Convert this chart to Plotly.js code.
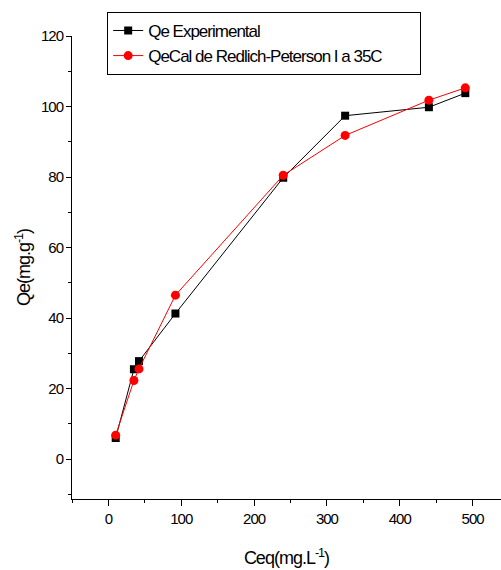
<!DOCTYPE html>
<html>
<head>
<meta charset="utf-8">
<script src="https://cdn.plot.ly/plotly-3.0.1.min.js"></script>
<style>
  html, body { margin: 0; padding: 0; background: #fff; }
  #chart { width: 501px; height: 570px; }
  /* tight, condensed lettering for all chart text */
  #chart svg text { letter-spacing: -1px; }
</style>
</head>
<body>
<div id="chart"></div>
<script>
// Equilibrium concentration (mg/L)
const ceq = [10, 35, 42, 92, 240, 325, 440, 490];
// Measured uptake (mg/g)
const qeExperimental = [6, 25.5, 27.8, 41.3, 79.8, 97.4, 99.8, 103.8];
// Redlich-Peterson model uptake at 35 C (mg/g)
const qeRedlichPeterson = [6.8, 22.3, 25.6, 46.5, 80.5, 91.8, 101.8, 105.3];

const seriesNames = ['Qe Experimental', 'QeCal de Redlich-Peterson I a 35C'];

const fontFamily = '"Liberation Sans", Arial, sans-serif';

const traces = [
  {
    x: ceq, y: qeExperimental, name: seriesNames[0],
    mode: 'lines+markers', type: 'scatter',
    line: { color: '#000000', width: 1 },
    marker: { symbol: 'square', size: 8, color: '#000000' }
  },
  {
    x: ceq, y: qeRedlichPeterson, name: seriesNames[1],
    mode: 'lines+markers', type: 'scatter',
    line: { color: '#ff0000', width: 1 },
    marker: { symbol: 'circle', size: 9, color: '#ff0000' }
  }
];

const layout = {
  width: 501, height: 570,
  margin: { l: 72, r: 0, t: 36, b: 71 },
  paper_bgcolor: '#ffffff', plot_bgcolor: '#ffffff',
  font: { family: fontFamily, color: '#000000', size: 15 },
  showlegend: true,
  legend: {
    x: 0.082, y: 1.052, xanchor: 'left', yanchor: 'top',
    bordercolor: '#000000', borderwidth: 1, bgcolor: '#ffffff',
    font: { family: fontFamily, size: 17, color: '#000000' },
    tracegroupgap: 0, itemwidth: 30
  },
  xaxis: {
    range: [-50, 539], showgrid: false, zeroline: false,
    showline: true, linecolor: '#000000', linewidth: 1,
    ticks: 'outside', ticklen: 6, tickcolor: '#000000',
    tick0: 0, dtick: 100,
    minor: { ticks: 'outside', ticklen: 3, tickcolor: '#000000', dtick: 50, tick0: 0 },
    tickfont: { size: 15 },
    title: { text: 'Ceq(mg.L<sup>-1</sup>)', font: { size: 18 }, standoff: 25 }
  },
  yaxis: {
    range: [-11.3, 120], showgrid: false, zeroline: false,
    showline: true, linecolor: '#000000', linewidth: 1,
    ticks: 'outside', ticklen: 5, tickcolor: '#000000',
    tick0: 0, dtick: 20,
    minor: { ticks: 'outside', ticklen: 3, tickcolor: '#000000', dtick: 10, tick0: 0 },
    tickfont: { size: 15 },
    title: { text: 'Qe(mg.g<sup>-1</sup>)', font: { size: 18 }, standoff: 2 }
  }
};

Plotly.newPlot('chart', traces, layout, { displayModeBar: false, staticPlot: true });
</script>
</body>
</html>
